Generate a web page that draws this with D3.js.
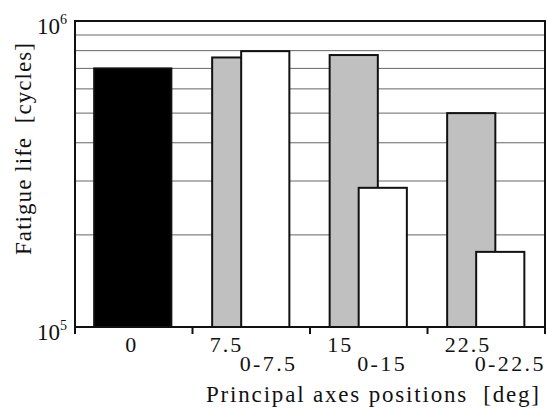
<html>
<meta charset="utf-8">
<script src="https://d3js.org/d3.v7.min.js"></script>
<style>
body{ margin:0; background:#fff; }
svg text{ font-family:"Liberation Serif","Times New Roman",serif; fill:#111; }
.grid{ stroke:#666; stroke-width:1; }
.bar{ stroke:#111; stroke-width:2; }
.frame{ fill:none; stroke:#111; stroke-width:2; }
</style>
<body>
<div id="chart"></div>
<script>
// categories and values (cycles)
var groups = ["0", "7.5", "15", "22.5"];
var singleLife = 7.0e5;                    // "0" bar
var grayLabels = ["7.5", "15", "22.5"];
var grayLife = [7.6e5, 7.74e5, 5.0e5];
var whiteLabels = ["0-7.5", "0-15", "0-22.5"];
var whiteLife = [7.97e5, 2.85e5, 1.76e5];
var gridValues = [2e5, 3e5, 4e5, 5e5, 6e5, 7e5, 8e5, 9e5];

var W = 547, H = 408;
var pLeft = 75, pRight = 545, pTop = 21, pBottom = 327;

var svg = d3.select("#chart").append("svg").attr("width", W).attr("height", H);

var x = d3.scaleBand().domain(groups).range([pLeft, pRight]).padding(0);
var y = d3.scaleLog().domain([1e5, 1e6]).range([pBottom, pTop]);

var bw = x.bandwidth();
var barW = bw * 0.41, shift = bw * 0.247;
function center(g){ return x(g) + bw / 2; }

// stretch a text to a given width by letter spacing
function fitWidth(sel, w){
  var node = sel.node();
  var n = node.getNumberOfChars();
  var L = node.getComputedTextLength();
  var ls = Math.max(0, (w - L) / (n - 1));
  sel.attr("letter-spacing", ls);
}

// grid
svg.selectAll(".grid").data(gridValues).enter().append("line")
  .attr("class", "grid")
  .attr("x1", pLeft).attr("x2", pRight)
  .attr("y1", function(d){ return y(d); })
  .attr("y2", function(d){ return y(d); });

// bar for 0
svg.append("rect").attr("class", "bar")
  .attr("x", center("0") - barW / 2 - shift / 2 - 1)
  .attr("width", barW + shift)
  .attr("y", y(singleLife))
  .attr("height", pBottom - y(singleLife))
  .attr("fill", "#000");

var pairs = grayLabels.map(function(g, i){
  return { g: g, gray: grayLife[i], white: whiteLife[i], wl: whiteLabels[i] };
});

svg.selectAll(".grayBar").data(pairs).enter().append("rect")
  .attr("class", "bar grayBar")
  .attr("x", function(d){ return center(d.g) - barW / 2 - shift / 2 - 0.5; })
  .attr("width", barW)
  .attr("y", function(d){ return y(d.gray); })
  .attr("height", function(d){ return pBottom - y(d.gray); })
  .attr("fill", "#c0c0c0");

svg.selectAll(".whiteBar").data(pairs).enter().append("rect")
  .attr("class", "bar whiteBar")
  .attr("x", function(d){ return center(d.g) - barW / 2 + shift / 2 - 0.5; })
  .attr("width", barW)
  .attr("y", function(d){ return y(d.white); })
  .attr("height", function(d){ return pBottom - y(d.white); })
  .attr("fill", "#fff");

// frame
svg.append("path").attr("class", "frame")
  .attr("d", "M" + pLeft + "," + pBottom + "V" + pTop + "H" + pRight + "V" + pBottom + "Z");

// x ticks at group borders
var tickXs = groups.map(function(g){ return x(g); }).concat([pRight]);
svg.selectAll(".xtick").data(tickXs).enter().append("line")
  .attr("class", "xtick")
  .attr("x1", function(d){ return d; }).attr("x2", function(d){ return d; })
  .attr("y1", pBottom).attr("y2", pBottom + 7)
  .attr("stroke", "#111").attr("stroke-width", 2);

// x labels
svg.append("text")
  .attr("x", center("0") - 3).attr("y", 352)
  .attr("text-anchor", "middle")
  .attr("font-size", 22)
  .text("0");

svg.selectAll(".glab").data(pairs).enter().append("text")
  .attr("class", "glab")
  .attr("x", function(d){ return center(d.g) - barW / 2 - shift / 2 - 3; })
  .attr("y", 352)
  .attr("font-size", 22).attr("letter-spacing", 2)
  .text(function(d){ return d.g; });

svg.selectAll(".wlab").data(pairs).enter().append("text")
  .attr("class", "wlab")
  .attr("x", function(d){ return center(d.g) - barW / 2 + shift / 2 - 2; })
  .attr("y", 371)
  .attr("font-size", 22).attr("letter-spacing", 2.4)
  .text(function(d){ return d.wl; });

// y labels 10^5, 10^6
[[1e5, "5"], [1e6, "6"]].forEach(function(t){
  var lab = svg.append("text")
    .attr("x", pLeft - 8).attr("y", y(t[0]) + 13)
    .attr("text-anchor", "end")
    .attr("font-size", 23);
  lab.append("tspan").text("10");
  lab.append("tspan").attr("dy", -10).attr("font-size", 14).text(t[1]);
});

// axis titles
var xTitle = svg.append("text")
  .attr("x", 206).attr("y", 402)
  .attr("font-size", 23)
  .text("Principal axes positions \u00a0[deg]");
fitWidth(xTitle, 333);

var yTitle = svg.append("text")
  .attr("transform", "translate(31,255) rotate(-90)")
  .attr("font-size", 23)
  .text("Fatigue life \u00a0[cycles]");
fitWidth(yTitle, 212);
</script>
</body>
</html>
